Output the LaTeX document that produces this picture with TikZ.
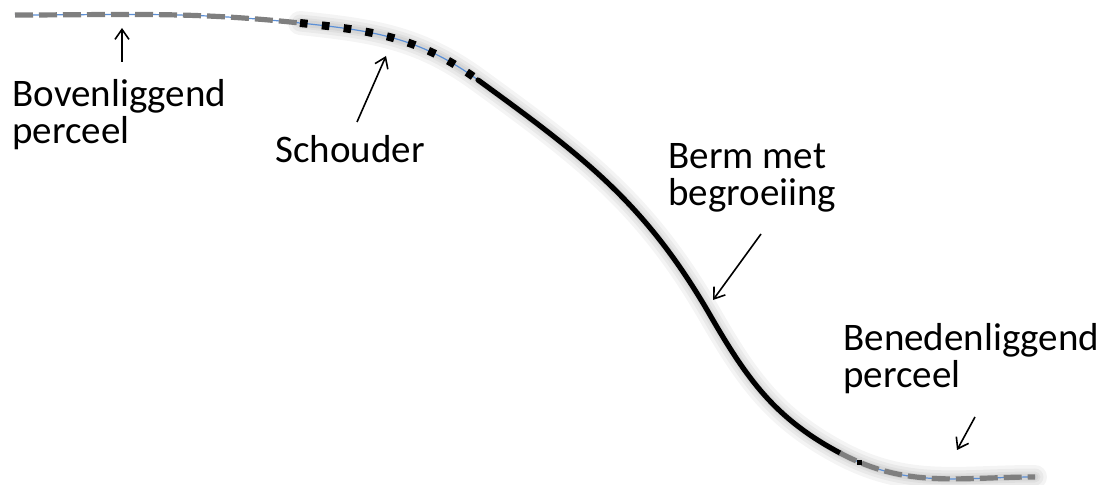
\documentclass[tikz,border=0pt]{standalone}
\usepackage{fontspec}
\setmainfont{Carlito}
\usetikzlibrary{arrows.meta, positioning}
\definecolor{soilgray}{HTML}{7F7F7F}
\definecolor{guideblue}{HTML}{5B8FD6}
\tikzset{
  guide/.style={draw=guideblue, line width=0.6pt},
  plotline/.style={draw=soilgray, line width=2.6pt, dash pattern=on 9pt off 3pt},
  shoulder/.style={draw=black, line width=4pt, dash pattern=on 3.8pt off 7.2pt},
  slope/.style={draw=black, line width=2.6pt, line cap=round},
  shade/.style={draw=black, opacity=0.045, line cap=round},
  pointer/.style={-{Straight Barb[length=5pt, width=7pt]}, line width=0.8pt},
  lbl/.style={font=\fontsize{19.5}{18.5}\selectfont, align=left, inner sep=0pt, anchor=base west},
}
\begin{document}
\begin{tikzpicture}[x=0.5pt, y=0.5pt]
\useasboundingbox (0,0) rectangle (1102,-485);

% ── break points of the profile ───────────────────────────────────────
\coordinate (p0) at (15,-15);
\coordinate (p1) at (300,-23);
\coordinate (p2) at (478,-80);
\coordinate (p3) at (710,-315);
\coordinate (p4) at (840,-453);
\coordinate (p5) at (1035,-477);

% ── soft shadow under the profile ─────────────────────────────────────
\foreach \w in {24,17,11,7} {
  \draw[shade, line width=\w*0.5pt, xshift=-4.5pt, yshift=-6.5pt]
    (p1) to[out=-6, in=144] (p2) to[out=-36, in=120] (p3)
    to[out=-60, in=152] (p4) to[out=-28, in=180] (p5);
}

% ── thin guide line along the whole profile ──────────────────────────
\draw[guide] (p0) to[out=0, in=174] (p1) to[out=-6, in=144] (p2)
  to[out=-36, in=120] (p3) to[out=-60, in=152] (p4) to[out=-28, in=180] (p5);

% ── styled segments ───────────────────────────────────────────────────
\draw[plotline] (p0) to[out=0, in=174] (p1);
\draw[shoulder] (p1) to[out=-6, in=144] (p2);
\draw[slope] (p2) to[out=-36, in=120] (p3) to[out=-60, in=152] (p4);
\draw[plotline] (p4) to[out=-28, in=180]
  node[pos=0.1, fill=black, inner sep=0pt, minimum size=2.6pt] (mark) {} (p5);

% ── labels (anchored on the baseline of their last line) ─────────────
\node[lbl] (boven) at (12,-144) {Bovenliggend\\perceel};
\node[lbl] (schouder) at (275,-163) {Schouder};
\node[lbl] (berm) at (668,-206) {Berm met\\begroeiing};
\node[lbl] (beneden) at (843,-388) {Benedenliggend\\perceel};

% ── pointers ──────────────────────────────────────────────────────────
\coordinate (bovenT) at (122,-62);  \coordinate (bovenH) at (122,-28);
\coordinate (schT)   at (357,-122); \coordinate (schH)   at (386,-56);
\coordinate (bermT)  at (761,-234); \coordinate (bermH)  at (713,-300);
\coordinate (benT)   at (975,-417); \coordinate (benH)   at (957,-450);
\draw[pointer] (bovenT) -- (bovenH);
\draw[pointer] (schT) -- (schH);
\draw[pointer] (bermT) -- (bermH);
\draw[pointer] (benT) -- (benH);

\end{tikzpicture}
\end{document}
